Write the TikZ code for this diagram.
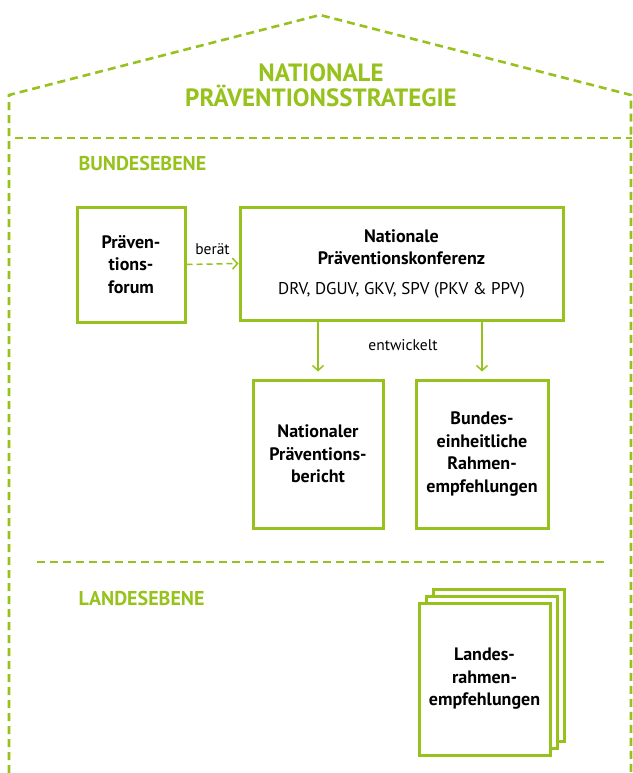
\documentclass[tikz,border=0pt]{standalone}
\usepackage{fontspec}
\setmainfont{PT Sans}
\usetikzlibrary{arrows.meta,shapes}
\definecolor{leafgreen}{RGB}{151,194,30}
\tikzstyle{dashline}=[draw=leafgreen,line width=2.6pt,dash pattern=on 8pt off 5pt]
\tikzstyle{greenbox}=[draw=leafgreen,line width=3pt,fill=white,align=center,inner sep=0pt,font=\bfseries\fontsize{18}{22.5}\selectfont]
\tikzstyle{edge}=[draw=leafgreen,line width=1.5pt,-{Straight Barb[length=5pt,width=11pt]}]
\tikzstyle{level}=[text=leafgreen,anchor=west,font=\bfseries\fontsize{20}{24}\selectfont]
\tikzstyle{weight}=[font=\fontsize{15.5}{18}\selectfont]

\begin{document}
\begin{tikzpicture}[x=1pt,y=-1pt]
    \useasboundingbox (0,0) rectangle (632,773);

    % house outline and level separators
    \draw[dashline] (9,773) -- (9,95) -- (320,15) -- (631,95) -- (631,773);
    \draw[dashline] (15,138) -- (632,138);
    \draw[dashline] (37,562) -- (605,562);

    \node[text=leafgreen, align=center, font=\bfseries\fontsize{25}{25}\selectfont] (title) at (321,85) {NATIONALE\\PRÄVENTIONSSTRATEGIE};
    \node[level] (bund) at (75,163) {BUNDESEBENE};
    \node[level] (land) at (75,598) {LANDESEBENE};

    % boxes
    \foreach \x/\y/\w/\h/\name/\txt in {131/264.5/108/115/forum/{Präven-\\tions-\\forum},
        318/454/130/148/bericht/{Nationaler\\Präventions-\\bericht},
        482/454/132/148/rahmen/{Bundes-\\einheitliche\\Rahmen-\\empfehlungen}}
        \node[greenbox, minimum width=\w pt, minimum height=\h pt] (\name) at (\x,\y) {\txt};

    \node[greenbox, minimum width=323pt, minimum height=113pt] (konferenz) at (401.5,263.5)
        {Nationale\\Präventionskonferenz\\[7pt]{\normalfont\fontsize{17}{20}\selectfont DRV, DGUV, GKV, SPV (PKV \& PPV)}};

    % stack of state papers
    \foreach \d/\name in {14/page3, 7/page2}
        \node[greenbox, minimum width=131pt, minimum height=152pt] (\name) at (484.5+\d,679-\d) {};
    \node[greenbox, minimum width=131pt, minimum height=152pt] (landes) at (484.5,679)
        {Landes-\\rahmen-\\empfehlungen};

    % connectors
    \draw[edge, dash pattern=on 6pt off 4pt] (forum.east) -- node[weight, above=5pt] {berät} (konferenz.west);
    \foreach \dest in {bericht, rahmen}
        \draw[edge, shorten >=7pt] (konferenz.south -| \dest.north) -- (\dest.north);
    \node[weight] (entw) at (403,345) {entwickelt};

\end{tikzpicture}
\end{document}
